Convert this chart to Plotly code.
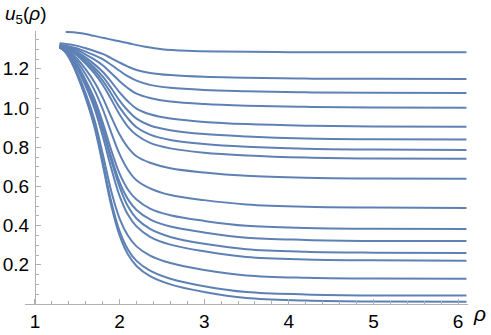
import plotly.graph_objects as go

# ---- data ----
rho_top = [1.363, 1.45, 1.55, 1.65, 1.75, 1.85, 1.95, 2.05, 2.15, 2.3, 2.5, 2.8, 3.2, 4.0, 5.0, 6.1]
u_top = [1.388, 1.387, 1.382, 1.373, 1.363, 1.354, 1.345, 1.336, 1.326, 1.313, 1.300, 1.292, 1.288, 1.285, 1.284, 1.284]

rho = [1.29, 1.35, 1.42, 1.5, 1.6, 1.7, 1.8, 1.9, 2.0, 2.1, 2.2, 2.36, 2.6, 3.0, 3.5, 4.2, 5.0, 6.1]

u_c2 = [1.330, 1.328, 1.324, 1.317, 1.305, 1.291, 1.276, 1.255, 1.232, 1.211, 1.194, 1.179, 1.168, 1.159, 1.155, 1.150, 1.149, 1.148]
u_c3 = [1.322, 1.319, 1.313, 1.304, 1.288, 1.270, 1.249, 1.221, 1.190, 1.161, 1.140, 1.118, 1.103, 1.092, 1.086, 1.080, 1.078, 1.077]
u_c4 = [1.320, 1.316, 1.309, 1.295, 1.273, 1.248, 1.218, 1.179, 1.137, 1.101, 1.073, 1.051, 1.033, 1.020, 1.012, 1.006, 1.003, 1.002]
u_c5 = [1.318, 1.313, 1.303, 1.285, 1.257, 1.224, 1.185, 1.135, 1.080, 1.033, 0.997, 0.968, 0.946, 0.929, 0.918, 0.910, 0.906, 0.905]
u_c6 = [1.317, 1.311, 1.299, 1.278, 1.246, 1.207, 1.161, 1.102, 1.038, 0.986, 0.946, 0.911, 0.887, 0.867, 0.855, 0.845, 0.841, 0.840]
u_c7 = [1.316, 1.310, 1.296, 1.273, 1.235, 1.193, 1.140, 1.074, 1.003, 0.946, 0.902, 0.864, 0.837, 0.816, 0.802, 0.792, 0.788, 0.786]
u_c8 = [1.315, 1.308, 1.293, 1.267, 1.226, 1.178, 1.119, 1.045, 0.967, 0.904, 0.862, 0.822, 0.794, 0.772, 0.758, 0.747, 0.742, 0.741]
u_c9 = [1.314, 1.305, 1.285, 1.250, 1.197, 1.134, 1.053, 0.956, 0.865, 0.798, 0.754, 0.721, 0.693, 0.671, 0.654, 0.644, 0.640, 0.639]
u_c10 = [1.313, 1.302, 1.278, 1.235, 1.171, 1.094, 0.995, 0.876, 0.765, 0.684, 0.631, 0.590, 0.556, 0.530, 0.508, 0.496, 0.492, 0.490]
u_c11 = [1.312, 1.299, 1.269, 1.219, 1.141, 1.049, 0.927, 0.787, 0.665, 0.583, 0.533, 0.487, 0.453, 0.424, 0.399, 0.388, 0.384, 0.383]
u_c12 = [1.311, 1.297, 1.266, 1.212, 1.129, 1.031, 0.900, 0.752, 0.622, 0.534, 0.480, 0.432, 0.395, 0.365, 0.338, 0.327, 0.322, 0.321]
u_c13 = [1.310, 1.295, 1.263, 1.207, 1.123, 1.021, 0.890, 0.735, 0.598, 0.497, 0.436, 0.383, 0.342, 0.307, 0.280, 0.267, 0.262, 0.260]
u_c14 = [1.310, 1.295, 1.260, 1.201, 1.110, 1.002, 0.858, 0.695, 0.552, 0.455, 0.396, 0.343, 0.303, 0.269, 0.240, 0.227, 0.223, 0.221]
u_c15 = [1.310, 1.292, 1.250, 1.180, 1.074, 0.944, 0.767, 0.578, 0.436, 0.348, 0.294, 0.247, 0.209, 0.174, 0.146, 0.134, 0.130, 0.129]
u_c16 = [1.310, 1.291, 1.245, 1.171, 1.057, 0.917, 0.727, 0.525, 0.372, 0.277, 0.220, 0.170, 0.129, 0.091, 0.061, 0.049, 0.044, 0.043]
u_c17 = [1.310, 1.291, 1.244, 1.167, 1.050, 0.908, 0.713, 0.505, 0.350, 0.252, 0.194, 0.142, 0.100, 0.061, 0.030, 0.018, 0.013, 0.012]

curves = [u_c2, u_c3, u_c4, u_c5, u_c6, u_c7, u_c8, u_c9, u_c10,
          u_c11, u_c12, u_c13, u_c14, u_c15, u_c16, u_c17]

x_ticks = [1, 2, 3, 4, 5, 6]
x_tick_text = ["1", "2", "3", "4", "5", "6"]
y_ticks = [0.2, 0.4, 0.6, 0.8, 1.0, 1.2]
y_tick_text = ["0.2", "0.4", "0.6", "0.8", "1.0", "1.2"]

# ---- styling ----
LINE = "#5E81B5"
AXIS = "#b0b0b0"
FONT = "Liberation Sans, Arial, sans-serif"
TICKFONT = dict(family=FONT, size=19, color="black")

fig = go.Figure()
fig.add_trace(go.Scatter(x=rho_top, y=u_top, mode="lines",
                         line=dict(color=LINE, width=2, shape="spline"),
                         hoverinfo="skip", showlegend=False))
for c in curves:
    fig.add_trace(go.Scatter(x=rho, y=c, mode="lines",
                             line=dict(color=LINE, width=2, shape="spline"),
                             hoverinfo="skip", showlegend=False))

xr = [0.882, 6.118]
yr = [0.0, 1.393]

fig.update_layout(
    width=491, height=335,
    margin=dict(l=25, r=23, t=31, b=31, autoexpand=False),
    paper_bgcolor="white", plot_bgcolor="white",
    font=dict(family=FONT, size=19, color="black"),
    xaxis=dict(range=xr, showgrid=False, zeroline=False, automargin=False,
               showline=True, linecolor=AXIS, linewidth=1,
               ticks="inside", ticklen=5, tickcolor=AXIS, tickwidth=1,
               tickvals=x_ticks, ticktext=x_tick_text, tickfont=TICKFONT,
               minor=dict(dtick=0.2, tick0=0, ticks="inside", ticklen=3,
                          tickcolor=AXIS, showgrid=False),
               ticklabelstandoff=0),
    yaxis=dict(range=yr, showgrid=False, zeroline=False, automargin=False,
               anchor="free", position=(1 - xr[0]) / (xr[1] - xr[0]),
               showline=True, linecolor=AXIS, linewidth=1,
               ticks="inside", ticklen=5, tickcolor=AXIS, tickwidth=1,
               tickvals=y_ticks, ticktext=y_tick_text, tickfont=TICKFONT,
               minor=dict(dtick=0.05, tick0=0, ticks="inside", ticklen=3,
                          tickcolor=AXIS, showgrid=False),
               ticklabelstandoff=2),
    annotations=[
        dict(text="<i>u</i><sub>5</sub>(<i>ρ</i>)", xref="paper", yref="paper",
             x=-0.05, y=1.06, xanchor="left", yanchor="middle",
             showarrow=False, font=dict(family=FONT, size=19, color="black")),
        dict(text="<i>ρ</i>", xref="paper", yref="paper",
             x=1.027, y=-0.035, xanchor="center", yanchor="middle",
             showarrow=False, font=dict(family=FONT, size=21, color="black")),
    ],
)

fig.write_html("out.html", config={"displayModeBar": False},
               post_script="document.body.style.margin='0';document.body.style.overflow='hidden';")
